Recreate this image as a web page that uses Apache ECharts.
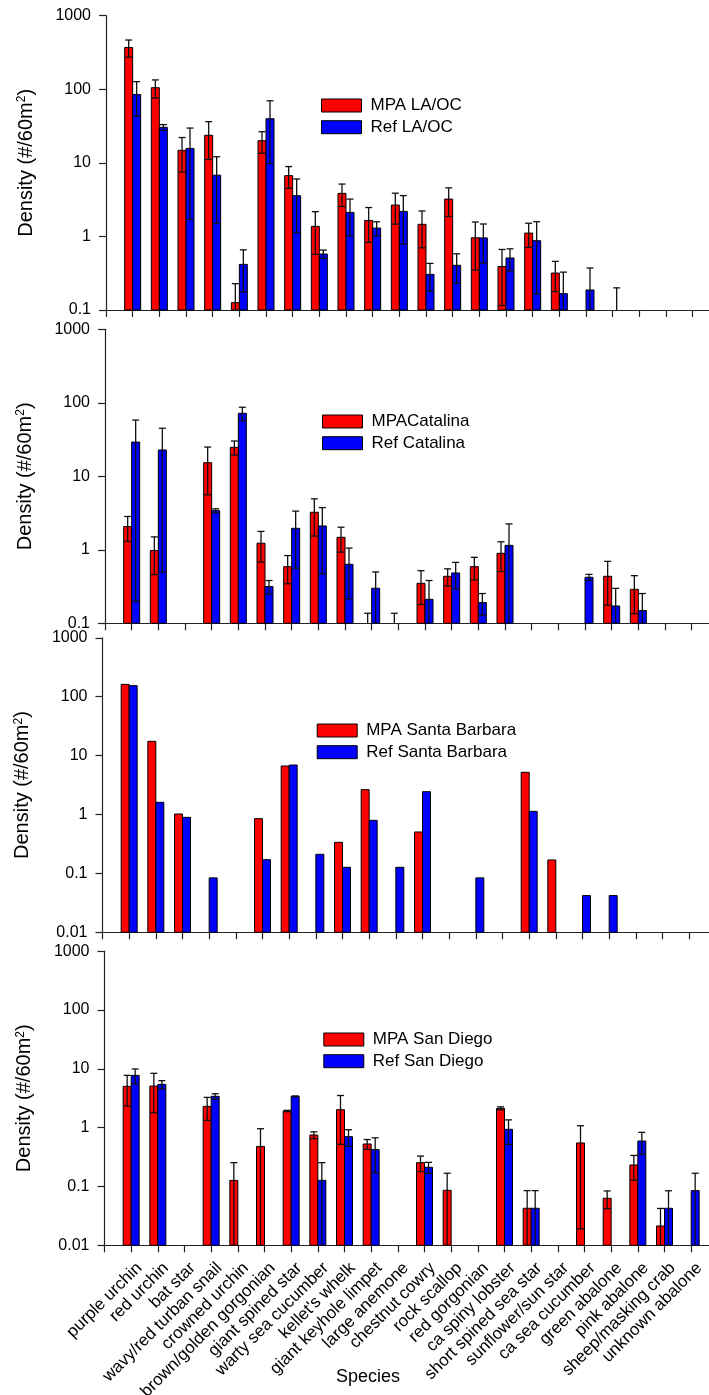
<!DOCTYPE html>
<html>
<head>
<meta charset="utf-8">
<script src="https://cdn.jsdelivr.net/npm/echarts@6/dist/echarts.min.js"></script>
<style>
html,body{margin:0;padding:0;background:#fff;}
#chart{width:709px;height:1395px;}
</style>
</head>
<body>
<div id="chart"></div>
<script>
// ---------------- DATA ----------------
const categories = ['purple urchin','red urchin','bat star','wavy/red turban snail','crowned urchin',
  'brown/golden gorgonian','giant spined star','warty sea cucumber',"kellet's whelk",'giant keyhole limpet',
  'large anemone','chestnut cowry','rock scallop','red gorgonian','ca spiny lobster','short spined sea star',
  'sunflower/sun star','ca sea cucumber','green abalone','pink abalone','sheep/masking crab','unknown abalone'];

const yTicks4 = [0.1, 1, 10, 100, 1000];
const yTicks5 = [0.01, 0.1, 1, 10, 100, 1000];

// LA/OC
const laMpa    = [370, 105, 14.8, 23.7, 0.126, 20.0, 6.7, 1.37, 3.85, 1.65, 2.67, 1.46, 3.22, 0.96, 0.39, 1.11, 0.318, null, null, null, null, null];
const laMpaErr = [97, 29, 7.3, 12.6, 0.102, 6.5, 2.2, 0.8, 1.3, 0.82, 1.2, 0.76, 1.35, 0.61, 0.275, 0.4, 0.14, null, null, null, null, null];
const laRef    = [85, 30.4, 15.7, 6.8, 0.417, 39.8, 3.58, 0.577, 2.12, 1.30, 2.19, 0.305, 0.405, 0.955, 0.509, 0.875, 0.167, 0.187, 0.1, null, null, null];
const laRefErr = [42, 2.7, 14, 5.3, 0.24, 30, 2.45, 0.075, 1.1, 0.28, 1.4, 0.125, 0.175, 0.52, 0.17, 0.71, 0.16, 0.185, 0.1, null, null, null];

// Catalina
const caMpa    = [2.07, 0.98, null, 15.3, 24.8, 1.23, 0.59, 3.24, 1.48, 0.07, 0.07, 0.35, 0.436, 0.59, 0.896, null, null, null, 0.436, 0.29, null, null];
const caMpaErr = [0.77, 0.52, null, 9.7, 5.4, 0.55, 0.245, 1.7, 0.55, 0.067, 0.067, 0.17, 0.115, 0.2, 0.39, null, null, null, 0.26, 0.155, null, null];
const caRef    = [29.2, 22.8, null, 3.41, 72, 0.316, 1.96, 2.11, 0.635, 0.3, null, 0.212, 0.484, 0.191, 1.15, null, null, 0.423, 0.172, 0.149, null, null];
const caRefErr = [29, 22.3, null, 0.2, 15, 0.066, 1.4, 1.64, 0.42, 0.2, null, 0.17, 0.19, 0.063, 1.1, null, null, 0.04, 0.127, 0.105, null, null];

// Santa Barbara (no error bars)
const sbMpa = [162, 17.5, 1.02, null, null, 0.85, 6.66, null, 0.337, 2.64, null, 0.505, null, null, null, 5.2, 0.169, null, null, null, null, null];
const sbRef = [154, 1.61, 0.895, 0.084, null, 0.171, 6.92, 0.211, 0.127, 0.796, 0.127, 2.44, null, 0.084, null, 1.13, null, 0.042, 0.042, null, null, null];

// San Diego
const sdMpa    = [5.04, 5.1, null, 2.3, 0.127, 0.48, 1.92, 0.75, 2.02, 0.528, null, 0.254, 0.086, null, 2.13, 0.0426, null, 0.549, 0.063, 0.232, 0.0213, null];
const sdMpaErr = [2.7, 3.3, null, 0.97, 0.127, 0.48, 0.05, 0.1, 1.5, 0.1, null, 0.075, 0.082, null, 0.13, 0.0424, null, 0.53, 0.021, 0.105, 0.021, null];
const sdRef    = [7.75, 5.45, null, 3.41, null, null, 3.41, 0.127, 0.703, 0.4225, null, 0.212, null, null, 0.937, 0.0426, null, null, null, 0.593, 0.0426, 0.085];
const sdRefErr = [2.2, 0.85, null, 0.36, null, null, 0.05, 0.127, 0.22, 0.25, null, 0.045, null, null, 0.42, 0.0424, null, null, null, 0.24, 0.042, 0.083];

// --------------- LAYOUT ---------------
const RED = '#ff0000', BLUE = '#0000ff';
const BAR_W = 8, CAP_W = 7, BAND = 26.667;
const FONT = "'Liberation Sans', Arial, Helvetica, sans-serif";

const panels = [
  {left:106,   top:15.7,  height:294.3, min:0.1,  max:1000, ticks:yTicks4, mpa:laMpa, mpaErr:laMpaErr, ref:laRef, refErr:laRefErr, names:['MPA LA/OC','Ref LA/OC'], legend:[321,97]},
  {left:105,   top:329.3, height:294,   min:0.1,  max:1000, ticks:yTicks4, mpa:caMpa, mpaErr:caMpaErr, ref:caRef, refErr:caRefErr, names:['MPACatalina','Ref Catalina'], legend:[322,413]},
  {left:102.5, top:637.8, height:294.5, min:0.01, max:1000, ticks:yTicks5, mpa:sbMpa, mpaErr:null, ref:sbRef, refErr:null, names:['MPA Santa Barbara','Ref Santa Barbara'], legend:[316.7,722]},
  {left:104.5, top:951.2, height:294.1, min:0.01, max:1000, ticks:yTicks5, mpa:sdMpa, mpaErr:sdMpaErr, ref:sdRef, refErr:sdRefErr, names:['MPA San Diego','Ref San Diego'], legend:[323.3,1031]}
];

function toData(vals, errs) {
  const out = [];
  vals.forEach((v, k) => {
    if (v == null) return;
    const e = errs && errs[k] != null ? errs[k] : 0;
    out.push([k, v, e]);
  });
  return out;
}

function makeRender(yMin, side) {
  return function (params, api) {
    const k = api.value(0), v = api.value(1), e = api.value(2);
    const base = api.coord([k, yMin]);
    const bottomY = base[1];
    const cx = base[0] + side * BAR_W / 2;
    const children = [];
    const topY = api.coord([k, v])[1];
    if (v > yMin && topY < bottomY) {
      children.push({type:'rect', shape:{x:cx - BAR_W/2, y:topY, width:BAR_W, height:bottomY - topY},
        style:{fill:api.visual('color'), stroke:'#000', lineWidth:1}});
    }
    if (e > 0) {
      const hiY = api.coord([k, v + e])[1];
      const hasLo = (v - e) > yMin;
      const loY = hasLo ? api.coord([k, v - e])[1] : bottomY;
      const st = {stroke:'#111', lineWidth:1.3};
      children.push({type:'line', shape:{x1:cx, y1:loY, x2:cx, y2:hiY}, style:st});
      children.push({type:'line', shape:{x1:cx - CAP_W/2, y1:hiY, x2:cx + CAP_W/2, y2:hiY}, style:st});
      if (hasLo) children.push({type:'line', shape:{x1:cx - CAP_W/2, y1:loY, x2:cx + CAP_W/2, y2:loY}, style:st});
    }
    return {type:'group', children};
  };
}

const grid = [], xAxis = [], yAxis = [], series = [], legend = [];
panels.forEach((p, i) => {
  grid.push({left:p.left, top:p.top, height:p.height, width:BAND * 23, containLabel:false, outerBoundsMode:'none'});
  xAxis.push({
    type:'value', gridIndex:i, min:-1, max:22, interval:1,
    axisLine:{show:true, onZero:false, lineStyle:{color:'#222', width:1.2}},
    axisTick:{show:true, length:7, lineStyle:{color:'#222', width:1.2}},
    splitLine:{show:false},
    axisLabel:{
      show: i === 3, rotate:45, fontSize:17, color:'#000', margin:12, fontFamily:FONT,
      verticalAlign:'top', padding:[3,0,0,0], hideOverlap:false,
      formatter: v => (Number.isInteger(v) && v >= 0 && v < categories.length) ? categories[v] : ''
    }
  });
  yAxis.push({
    type:'log', logBase:10, gridIndex:i, min:p.min, max:p.max,
    axisLine:{show:true, onZero:false, lineStyle:{color:'#222', width:1.2}},
    axisTick:{show:true, length:7, lineStyle:{color:'#222', width:1.2}},
    minorTick:{show:false}, splitLine:{show:false},
    axisLabel:{fontSize:16, color:'#000', margin:15, fontFamily:FONT,
      formatter: v => String(+Number(v).toPrecision(2))},
    name:'{a|Density (#/60m}{s|2}{a|)}', nameLocation:'middle', nameGap:70, nameRotate:90,
    nameTextStyle:{fontFamily:FONT, color:'#000', rich:{
      a:{fontSize:20, fontFamily:FONT, color:'#000'},
      s:{fontSize:12, fontFamily:FONT, color:'#000', verticalAlign:'top', padding:[0,0,7,0]}
    }}
  });
  series.push({
    type:'custom', name:p.names[0], xAxisIndex:i, yAxisIndex:i, itemStyle:{color:RED},
    renderItem: makeRender(p.min, -1), data: toData(p.mpa, p.mpaErr), encode:{x:0, y:1}, z:2
  });
  series.push({
    type:'custom', name:p.names[1], xAxisIndex:i, yAxisIndex:i, itemStyle:{color:BLUE},
    renderItem: makeRender(p.min, 1), data: toData(p.ref, p.refErr), encode:{x:0, y:1}, z:2
  });
  legend.push({
    data:p.names, orient:'vertical', left:p.legend[0], top:p.legend[1], padding:0,
    itemWidth:40, itemHeight:13, itemGap:4.7, icon:'rect',
    itemStyle:{borderColor:'#000', borderWidth:1},
    textStyle:{fontSize:17, color:'#000', fontFamily:FONT, padding:[0,0,0,4]},
    selectedMode:false
  });
});

const chart = echarts.init(document.getElementById('chart'), null, {renderer:'canvas', width:709, height:1395});
chart.setOption({
  animation:false,
  backgroundColor:'#fff',
  textStyle:{fontFamily:FONT},
  grid, xAxis, yAxis, series, legend,
  graphic:[{type:'text', x:368, y:1377, style:{text:'Species', fontSize:18, fontFamily:FONT, fill:'#000', textAlign:'center', textVerticalAlign:'middle'}}]
});
</script>
</body>
</html>
